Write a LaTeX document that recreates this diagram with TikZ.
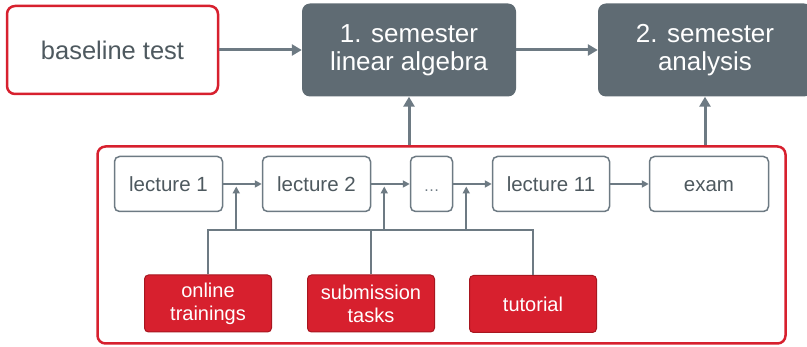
\documentclass[tikz,border=0pt]{standalone}
\usepackage{fontspec}
\setmainfont{Liberation Sans}
\usetikzlibrary{positioning, arrows.meta, calc}

\definecolor{uniRed}{HTML}{D7202E}
\definecolor{uniRedDark}{HTML}{A8161F}
\definecolor{slate}{HTML}{5F6B73}
\definecolor{slateLine}{HTML}{6D7A83}
\definecolor{slateText}{HTML}{4E595F}

\begin{document}
\begin{tikzpicture}[
    x=1pt, y=-1pt,
    node distance=38.5pt,
    start/.style = {rectangle, draw=uniRed, line width=2.5pt, rounded corners=8pt, align=center, minimum width=211pt, minimum height=88pt, inner sep=0pt, text=slateText, font=\fontsize{25.5}{28}\selectfont},
    semester/.style = {rectangle, fill=slate, rounded corners=8pt, align=center, minimum width=214pt, minimum height=93pt, inner sep=0pt, text=white, font=\fontsize{26}{28}\selectfont},
    lecture/.style = {rectangle, draw=slateLine, line width=1.5pt, rounded corners=5pt, align=center, minimum width=108pt, minimum height=55pt, inner sep=0pt, text height=18pt, text depth=3pt, text=slateText, font=\fontsize{20.5}{22}\selectfont},
    activity/.style = {rectangle, fill=uniRed, draw=uniRedDark, line width=1pt, rounded corners=4pt, align=center, minimum width=127pt, minimum height=57pt, inner sep=0pt, text=white, font=\fontsize{20}{23}\selectfont},
    course/.style = {rectangle, draw=uniRed, line width=2.5pt, rounded corners=8pt, minimum width=688pt, minimum height=197pt, inner sep=0pt},
    bigarrow/.style = {-{Triangle[length=10pt,width=11pt]}, line width=3pt, draw=slateLine},
    arrow/.style = {-{Triangle[length=7pt,width=7pt]}, line width=1.8pt, draw=slateLine},
    link/.style = {line width=1.8pt, draw=slateLine}
]
\useasboundingbox (0,0) rectangle (807,347);

% Top row
\node[start] (baseline) at (112.5,50) {baseline test};
\node[semester] (sem1) at (409,50) {1. semester\\linear algebra};
\node[semester] (sem2) at (705,50) {2. semester\\analysis};

% Course frame
\node[course] (course) at (441.5,245) {};

% Lectures
\node[lecture] (lec1) at (168.5,184) {lecture 1};
\node[lecture, right=of lec1] (lec2) {lecture 2};
\node[lecture, right=of lec2, minimum width=42pt] (dots) {\textcolor{slateLine}{\fontsize{16}{16}\selectfont\dots}};
\node[lecture, right=of dots, minimum width=117pt] (lec11) {lecture 11};
\node[lecture, right=of lec11, minimum width=119pt] (exam) {exam};

% Activities
\node[activity] (online) at (208,303.5) {online\\trainings};
\node[activity] (submission) at (371,303.5) {submission\\tasks};
\node[activity] (tutorial) at (533,304) {tutorial};

% Top arrows
\draw[bigarrow] (baseline) -- (sem1);
\draw[bigarrow] (sem1) -- (sem2);
\draw[bigarrow] (course.north -| sem1.south) -- (sem1.south);
\draw[bigarrow] (course.north -| sem2.south) -- (sem2.south);

% Lecture chain
\draw[arrow] (lec1) -- (lec2);
\draw[arrow] (lec2) -- (dots);
\draw[arrow] (dots) -- (lec11);
\draw[arrow] (lec11) -- (exam);

% Bus from activities to lectures
\coordinate (bus) at (0,230);
\draw[link] (online.north) |- (bus -| tutorial.north) -- (tutorial.north);
\draw[link] (submission.north) -- (submission.north |- bus);
\foreach \src in {lec1, lec2, dots}
    \draw[arrow] ([xshift=13pt]\src.east |- bus) -- ([xshift=13pt,yshift=-2.5pt]\src.east);

\end{tikzpicture}
\end{document}
